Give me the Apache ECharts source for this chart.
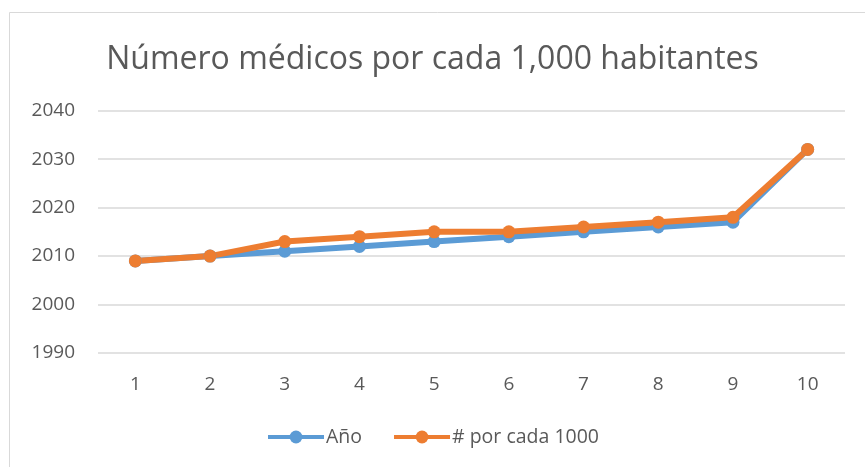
<!DOCTYPE html>
<html><head><meta charset="utf-8">
<script src="https://cdn.jsdelivr.net/npm/echarts@6/dist/echarts.min.js"></script>
<style>html,body{margin:0;padding:0;background:#fff}#c{width:865px;height:467px}</style>
</head><body><div id="c"></div>
<script>
const categories = ['1','2','3','4','5','6','7','8','9','10'];
const anio = [2009, 2010, 2011, 2012, 2013, 2014, 2015, 2016, 2017, 2032];
const porCada1000 = [2009, 2010, 2013, 2014, 2015, 2015, 2016, 2017, 2018, 2032];
const seriesNames = ['Año', '# por cada 1000'];
const titleText = 'Número médicos por cada 1,000 habitantes';

const chart = echarts.init(document.getElementById('c'));
const font = 'Open Sans';
chart.setOption({
  animation: false,
  backgroundColor: '#fff',
  textStyle: {fontFamily: font},
  graphic: [{type: 'rect', shape: {x: 9.5, y: 12.5, width: 900, height: 500}, style: {fill: 'none', stroke: '#d9d9d9', lineWidth: 1}, silent: true}],
  title: {text: titleText, left: 'center', top: 39, textStyle: {fontFamily: font, fontSize: 32, fontWeight: 'normal', color: '#595959'}},
  legend: {bottom: 15, left: 'center', itemWidth: 56, itemHeight: 16, itemGap: 30,
    lineStyle: {width: 4},
    textStyle: {fontFamily: font, fontSize: 19.5, color: '#595959', padding: [0, 0, 0, -3]}, data: seriesNames},
  grid: {left: 98, right: 20, top: 110.7, bottom: 114, containLabel: false},
  xAxis: {type: 'category', data: categories, boundaryGap: true,
    axisLine: {show: false}, axisTick: {show: false},
    axisLabel: {fontFamily: font, fontSize: 19, color: '#595959', margin: 22}},
  yAxis: {type: 'value', min: 1990, max: 2040, interval: 10,
    axisLine: {show: false}, axisTick: {show: false},
    splitLine: {lineStyle: {color: '#d9d9d9', width: 1.5}},
    axisLabel: {fontFamily: font, fontSize: 19, color: '#595959', margin: 23, formatter: v => String(v)}},
  series: [
    {name: seriesNames[0], type: 'line', data: anio, color: '#5B9BD5', symbol: 'circle', symbolSize: 13,
      lineStyle: {width: 6, color: '#5B9BD5'}, itemStyle: {color: '#5B9BD5'}},
    {name: seriesNames[1], type: 'line', data: porCada1000, color: '#ED7D31', symbol: 'circle', symbolSize: 13,
      lineStyle: {width: 6, color: '#ED7D31'}, itemStyle: {color: '#ED7D31'}}
  ]
});
</script></body></html>
